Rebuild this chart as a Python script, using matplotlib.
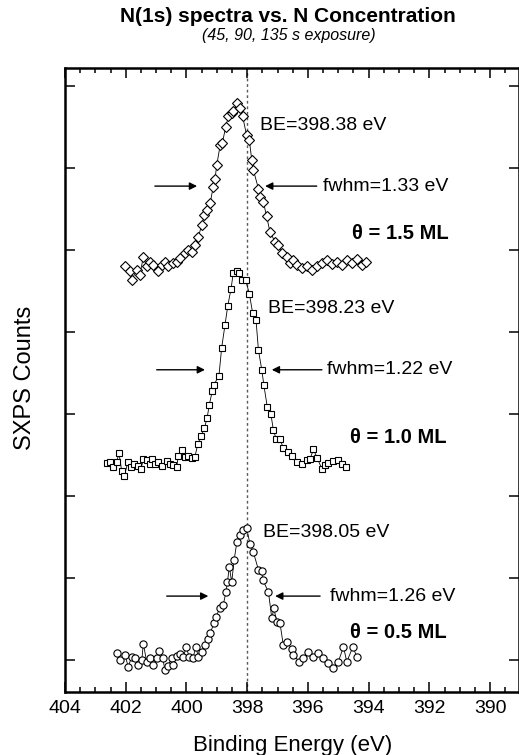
import matplotlib
matplotlib.use("Agg")
import matplotlib.pyplot as plt
from matplotlib.ticker import MultipleLocator

plt.rcParams['font.family'] = ['Liberation Sans', 'DejaVu Sans']

# theta = 1.5 ML (diamonds), binding energy (eV) and counts (offset, arb. units)
be_15 = [402.02, 401.86, 401.80, 401.64, 401.53, 401.42, 401.31, 401.20, 401.09, 400.93,
         400.82, 400.71, 400.60, 400.43, 400.32, 400.21, 400.05, 399.94, 399.83, 399.72,
         399.61, 399.50, 399.41, 399.33, 399.22, 399.12, 399.06, 399.00, 398.89, 398.82,
         398.71, 398.62, 398.51, 398.46, 398.32, 398.24, 398.15, 398.02, 397.93, 397.85,
         397.80, 397.63, 397.58, 397.47, 397.36, 397.25, 397.08, 396.97, 396.86, 396.70,
         396.59, 396.48, 396.35, 396.20, 396.04, 395.87, 395.71, 395.54, 395.38, 395.22,
         395.05, 394.89, 394.72, 394.56, 394.39, 394.23, 394.09]
counts_15 = [4.80, 4.74, 4.63, 4.76, 4.70, 4.92, 4.80, 4.86, 4.82, 4.74,
             4.82, 4.86, 4.80, 4.84, 4.86, 4.90, 4.96, 5.00, 4.98, 5.06,
             5.16, 5.30, 5.43, 5.49, 5.57, 5.77, 5.87, 6.04, 6.28, 6.30,
             6.50, 6.63, 6.67, 6.69, 6.79, 6.73, 6.63, 6.40, 6.34, 6.10,
             5.98, 5.75, 5.65, 5.59, 5.41, 5.22, 5.10, 5.06, 4.96, 4.92,
             4.84, 4.88, 4.82, 4.78, 4.80, 4.76, 4.80, 4.84, 4.88, 4.83,
             4.86, 4.82, 4.88, 4.84, 4.89, 4.82, 4.85]

# theta = 1.0 ML (squares)
be_10 = [402.63, 402.52, 402.41, 402.30, 402.22, 402.13, 402.05, 401.93, 401.83, 401.72,
         401.61, 401.50, 401.42, 401.31, 401.20, 401.12, 401.04, 400.93, 400.82, 400.65,
         400.54, 400.43, 400.32, 400.27, 400.16, 400.05, 399.94, 399.83, 399.72, 399.63,
         399.52, 399.41, 399.32, 399.25, 399.15, 399.09, 398.93, 398.84, 398.73, 398.64,
         398.53, 398.46, 398.34, 398.27, 398.18, 398.05, 397.93, 397.82, 397.71, 397.63,
         397.52, 397.45, 397.34, 397.22, 397.14, 397.05, 396.92, 396.81, 396.64, 396.53,
         396.37, 396.20, 396.04, 395.93, 395.82, 395.69, 395.54, 395.44, 395.33, 395.16,
         395.00, 394.89, 394.74]
counts_10 = [2.40, 2.42, 2.36, 2.42, 2.52, 2.30, 2.24, 2.41, 2.35, 2.39,
             2.37, 2.33, 2.45, 2.44, 2.39, 2.45, 2.39, 2.42, 2.37, 2.43,
             2.39, 2.38, 2.35, 2.49, 2.56, 2.48, 2.49, 2.46, 2.48, 2.63,
             2.73, 2.83, 2.95, 3.11, 3.28, 3.36, 3.47, 3.81, 4.09, 4.32,
             4.53, 4.72, 4.74, 4.72, 4.63, 4.63, 4.47, 4.23, 4.15, 3.78,
             3.54, 3.35, 3.09, 3.00, 2.81, 2.70, 2.70, 2.58, 2.54, 2.49,
             2.42, 2.39, 2.44, 2.45, 2.57, 2.46, 2.33, 2.38, 2.40, 2.43,
             2.44, 2.39, 2.36]

# theta = 0.5 ML (circles)
be_05 = [402.30, 402.19, 402.02, 401.92, 401.80, 401.69, 401.59, 401.47, 401.42, 401.31,
         401.20, 401.09, 400.98, 400.89, 400.78, 400.71, 400.60, 400.49, 400.43, 400.32,
         400.21, 400.10, 400.01, 399.91, 399.79, 399.69, 399.61, 399.50, 399.39, 399.30,
         399.22, 399.09, 399.03, 398.89, 398.79, 398.70, 398.65, 398.59, 398.51, 398.43,
         398.34, 398.24, 398.13, 398.02, 397.91, 397.80, 397.63, 397.52, 397.49, 397.30,
         397.19, 397.12, 397.03, 396.92, 396.81, 396.70, 396.53, 396.48, 396.28, 396.15,
         395.99, 395.82, 395.66, 395.49, 395.33, 395.16, 395.00, 394.83, 394.72, 394.52,
         394.39]
counts_05 = [0.08, 0.00, 0.06, -0.08, 0.04, 0.02, -0.06, 0.00, 0.20, -0.02,
             0.02, -0.06, 0.02, 0.11, 0.02, -0.12, -0.07, 0.03, -0.06, 0.05,
             0.07, 0.04, 0.16, 0.04, 0.02, 0.16, 0.04, 0.10, 0.18, 0.26,
             0.33, 0.45, 0.53, 0.64, 0.67, 0.83, 0.95, 1.14, 0.95, 1.22,
             1.44, 1.52, 1.59, 1.61, 1.42, 1.32, 1.10, 1.08, 0.98, 0.83,
             0.51, 0.63, 0.47, 0.45, 0.18, 0.22, 0.14, 0.06, -0.02, 0.02,
             0.10, 0.04, 0.08, 0.02, -0.04, -0.10, -0.02, 0.16, -0.02, 0.16,
             0.04]

be_labels = ['BE=398.38 eV', 'BE=398.23 eV', 'BE=398.05 eV']
fwhm_labels = ['fwhm=1.33 eV', 'fwhm=1.22 eV', 'fwhm=1.26 eV']
theta_labels = ['θ = 1.5 ML', 'θ = 1.0 ML', 'θ = 0.5 ML']
xticks = [404, 402, 400, 398, 396, 394, 392, 390]

fig = plt.figure(figsize=(5.19, 7.55), dpi=100)
ax = fig.add_axes([0.1252, 0.0834, 0.8748, 0.8265])

spectra = [(be_15, counts_15, 'D', 5.0), (be_10, counts_10, 's', 4.6), (be_05, counts_05, 'o', 5.2)]
for be, counts, mk, ms in spectra:
    ax.plot(be, counts, color='k', lw=0.6, marker=mk, ms=ms, mfc='white', mec='k', mew=0.8)

ax.axvline(398.0, color='0.35', lw=1.0, ls=(0, (2, 2)), zorder=0)

# annotation positions: (BE text, left arrow, right arrow, fwhm text, theta text)
be_pos = [(397.58, 6.52), (397.30, 4.29), (397.47, 1.56)]
arrow_y = [5.78, 3.54, 0.78]
left_arrows = [(401.04, 399.65), (400.98, 399.39), (400.65, 399.28)]
right_arrows = [(395.71, 397.41), (395.54, 397.19), (395.60, 397.08)]
fwhm_x = [395.49, 395.38, 395.27]
theta_pos = [(394.56, 5.20), (394.61, 2.72), (394.61, 0.33)]

for i in range(3):
    ax.text(be_pos[i][0], be_pos[i][1], be_labels[i], fontsize=14, ha='left', va='center')
    ay = arrow_y[i]
    for x0, x1 in (left_arrows[i], right_arrows[i]):
        ax.annotate('', xy=(x1, ay), xytext=(x0, ay),
                    arrowprops=dict(arrowstyle='-|>', color='k', lw=1.0, mutation_scale=11,
                                    shrinkA=0, shrinkB=0))
    ax.text(fwhm_x[i], ay, fwhm_labels[i], fontsize=14, ha='left', va='center')
    ax.text(theta_pos[i][0], theta_pos[i][1], theta_labels[i], fontsize=14.5,
            fontweight='bold', ha='left', va='center')

ax.set_xlim(404, 389.05)
ax.set_ylim(-0.39, 7.22)
ax.set_xticks(xticks)
ax.xaxis.set_minor_locator(MultipleLocator(0.5))
ax.set_yticks(range(8))
ax.set_yticklabels([])
ax.tick_params(which='both', direction='in', top=True, right=True, width=1.1)
ax.tick_params(which='major', length=7, labelsize=14, pad=6)
ax.tick_params(which='minor', length=3.5)
for s in ax.spines.values():
    s.set_linewidth(1.8)

fig.text(0.554, 0.978, 'N(1s) spectra vs. N Concentration', fontsize=15,
         fontweight='bold', ha='center', va='center')
fig.text(0.556, 0.953, '(45, 90, 135 s exposure)', fontsize=11.5,
         style='italic', ha='center', va='center')
fig.text(0.5636, 0.0132, 'Binding Energy (eV)', fontsize=16, ha='center', va='center')
fig.text(0.048, 0.5, 'SXPS Counts', fontsize=17, rotation=90, ha='center', va='center')

fig.savefig('out.png', dpi=100)
